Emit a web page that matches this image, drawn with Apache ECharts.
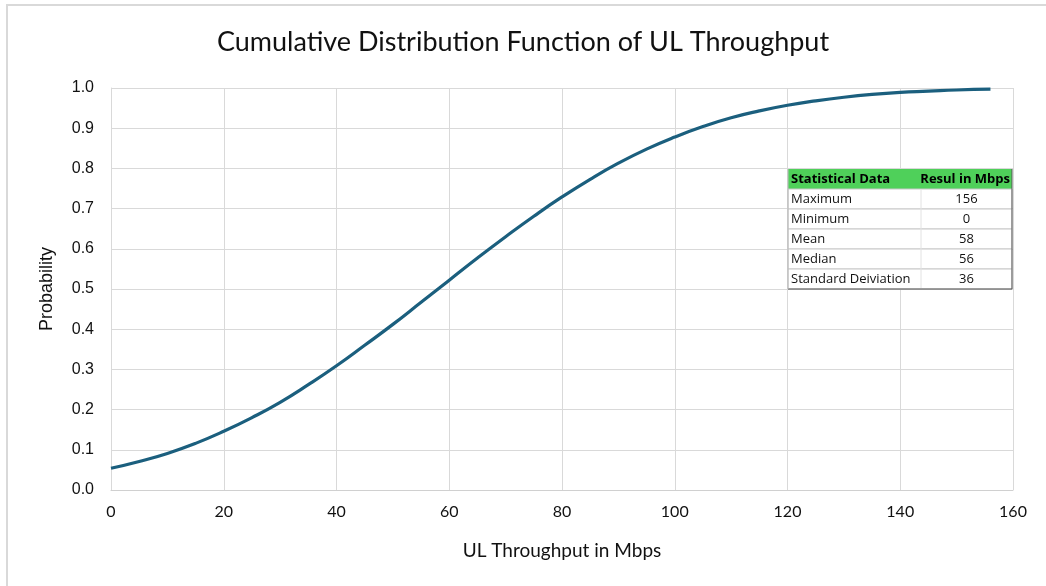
<!DOCTYPE html>
<html>
<head>
<meta charset="utf-8">
<title>CDF of UL Throughput</title>
<script src="https://cdn.jsdelivr.net/npm/echarts@6/dist/echarts.min.js"></script>
<style>
  html, body { margin: 0; padding: 0; background: #fff; }
  #chart { width: 1046px; height: 586px; }
</style>
</head>
<body>
<div id="chart"></div>
<script>
  // throughput (Mbps) and cumulative probability
  var throughput = [0, 5, 10, 15, 20, 25, 30, 35, 40, 45, 50, 55, 60, 65, 70, 75, 80, 85, 90, 95, 100, 105, 110, 115, 120, 125, 130, 135, 140, 145, 150, 156]
  var probability = [0.054, 0.071, 0.091, 0.116, 0.146, 0.180, 0.218, 0.262, 0.309, 0.360, 0.412, 0.467, 0.522, 0.577, 0.630, 0.681, 0.729, 0.773, 0.813, 0.848, 0.878, 0.904, 0.926, 0.943, 0.957, 0.968, 0.977, 0.984, 0.989, 0.992, 0.995, 0.997]

  // stats table
  var statNames = ['Maximum', 'Minimum', 'Mean', 'Median', 'Standard Deiviation']
  var statValues = ['156', '0', '58', '56', '36']

  var chart = echarts.init(document.getElementById('chart'))

  // build the table as graphic elements (z on each, groups don't pass it down)
  var tblX = 788, tblY = 169, colW1 = 133, colW2 = 91, rowH = 20
  var Z = 50
  var cellFont = { fontFamily: 'Open Sans', fontSize: 13, fill: '#111', verticalAlign: 'middle' }
  function txt (x, y, s, extra) {
    return { type: 'text', z: Z + 1, style: Object.assign({ x: x, y: y, text: s }, cellFont, extra || {}) }
  }
  var tbl = []
  tbl.push({ type: 'rect', z: Z, shape: { x: tblX, y: tblY, width: colW1 + colW2, height: rowH }, style: { fill: '#4fd05a' } })
  tbl.push(txt(tblX + 3, tblY + rowH / 2, 'Statistical Data', { fontWeight: 'bold', fill: '#000' }))
  tbl.push(txt(tblX + colW1 + colW2 - 2, tblY + rowH / 2, 'Resul in Mbps', { fontWeight: 'bold', fill: '#000', align: 'right' }))
  for (var i = 0; i < statNames.length; i++) {
    var ry = tblY + rowH * (i + 1)
    tbl.push({ type: 'rect', z: Z, shape: { x: tblX, y: ry, width: colW1 + colW2, height: rowH }, style: { fill: '#fff', stroke: '#c8c8c8', lineWidth: 1 } })
    tbl.push({ type: 'line', z: Z + 1, shape: { x1: tblX + colW1, y1: ry, x2: tblX + colW1, y2: ry + rowH }, style: { stroke: '#e2e2e2', lineWidth: 1 } })
    tbl.push(txt(tblX + 3, ry + rowH / 2, statNames[i]))
    tbl.push(txt(tblX + colW1 + colW2 / 2, ry + rowH / 2, statValues[i], { align: 'center' }))
  }
  // outer edges (darker right and bottom)
  tbl.push({ type: 'line', z: Z + 2, shape: { x1: tblX + colW1 + colW2, y1: tblY, x2: tblX + colW1 + colW2, y2: tblY + rowH * 6 }, style: { stroke: '#555', lineWidth: 1 } })
  tbl.push({ type: 'line', z: Z + 2, shape: { x1: tblX, y1: tblY + rowH * 6, x2: tblX + colW1 + colW2, y2: tblY + rowH * 6 }, style: { stroke: '#555', lineWidth: 1 } })
  tbl.push({ type: 'line', z: Z + 2, shape: { x1: tblX, y1: tblY, x2: tblX, y2: tblY + rowH * 6 }, style: { stroke: '#bbb', lineWidth: 1 } })

  var option = {
    backgroundColor: '#fff',
    animation: false,
    title: {
      text: 'Cumulative Distribution Function of UL Throughput',
      left: 'center',
      top: 24,
      textStyle: { fontFamily: 'Lato', fontSize: 27, fontWeight: 'normal', color: '#111' }
    },
    grid: { left: 111, right: 33, top: 88, bottom: 96 },
    xAxis: {
      type: 'value',
      min: 0,
      max: 160,
      interval: 20,
      name: 'UL Throughput in Mbps',
      nameLocation: 'middle',
      nameGap: 51,
      nameTextStyle: { fontFamily: 'Lato', fontSize: 19, color: '#111' },
      axisLine: { show: true, lineStyle: { color: '#d0d0d0' } },
      axisTick: { show: false },
      axisLabel: { margin: 14, fontFamily: 'Lato', fontSize: 16, color: '#111' },
      splitLine: { show: true, lineStyle: { color: '#d9d9d9' } }
    },
    yAxis: {
      type: 'value',
      min: 0,
      max: 1,
      interval: 0.1,
      name: 'Probability',
      nameLocation: 'middle',
      nameGap: 55,
      nameTextStyle: { fontFamily: 'Liberation Sans', fontSize: 18, color: '#111' },
      axisLine: { show: true, lineStyle: { color: '#d9d9d9' } },
      axisTick: { show: false },
      axisLabel: {
        margin: 17,
        fontFamily: 'Liberation Sans',
        fontSize: 16,
        color: '#111',
        formatter: function (v) { return v.toFixed(1) }
      },
      splitLine: { show: true, lineStyle: { color: '#d9d9d9' } }
    },
    graphic: [
      { type: 'rect', z: 100, shape: { x: 7, y: 5, width: 1100, height: 700 }, style: { fill: 'none', stroke: '#d9d9d9', lineWidth: 2 } },
      { type: 'group', children: tbl }
    ],
    series: [{
      type: 'line',
      smooth: true,
      showSymbol: false,
      data: throughput.map(function (x, i) { return [x, probability[i]] }),
      lineStyle: { color: '#1b5f7e', width: 3.2 },
      itemStyle: { color: '#1b5f7e' }
    }]
  }

  chart.setOption(option)
</script>
</body>
</html>
